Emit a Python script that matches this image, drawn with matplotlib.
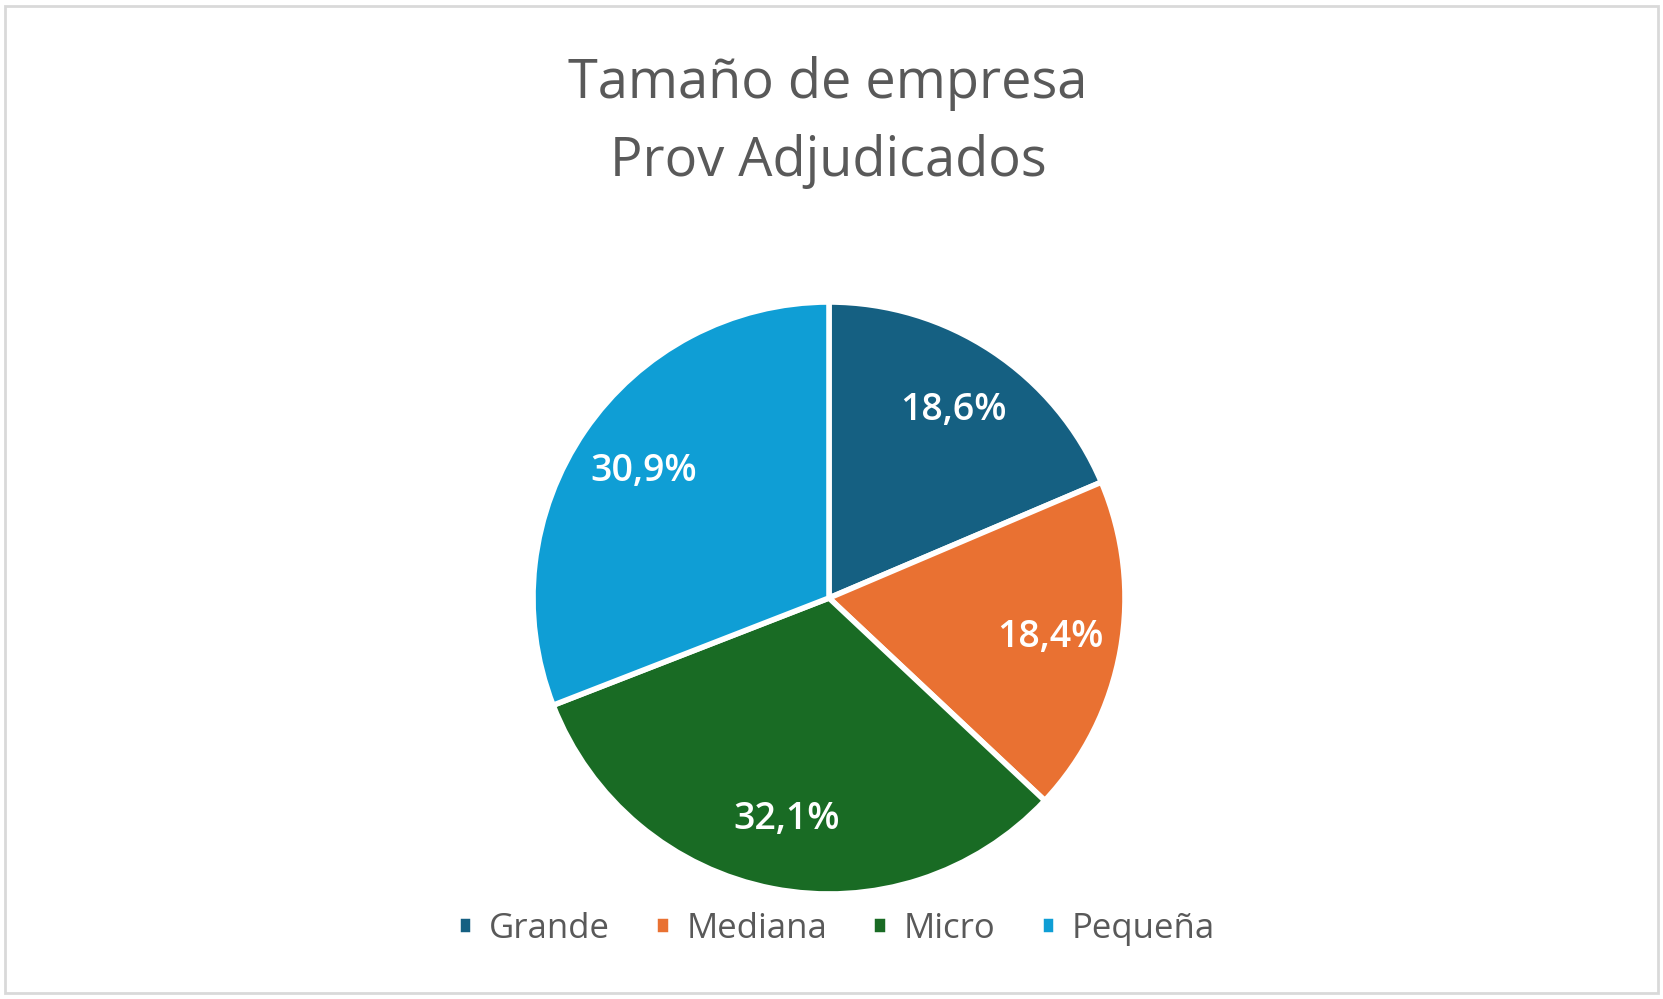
import matplotlib.pyplot as plt
from matplotlib.patches import Rectangle

categories = ["Grande", "Mediana", "Micro", "Pequeña"]
shares = [18.6, 18.4, 32.1, 30.9]
colors = ["#156082", "#E97132", "#196B24", "#0F9ED5"]

plt.rcParams['font.family'] = ['Open Sans', 'DejaVu Sans']

fig = plt.figure(figsize=(16.63, 9.99), dpi=100)
fig.patch.set_facecolor("white")

# pie centre ~ (829, 598) px, radius ~ 296 px
r = 296
cx, cy = 829, 999 - 598
ax = fig.add_axes([(cx - r) / 1663, (cy - r) / 999, 2 * r / 1663, 2 * r / 999])

wedges, texts, autotexts = ax.pie(
    shares, colors=colors, startangle=90, counterclock=False,
    autopct=lambda p: f"{p:.1f}%".replace(".", ","), pctdistance=0.76,
    wedgeprops=dict(edgecolor="white", linewidth=4),
    textprops=dict(color="white", fontsize=27, fontweight="semibold"))
ax.set_xlim(-1, 1)
ax.set_ylim(-1, 1)
ax.set_aspect("equal")

fig.text(0.498, 0.916, "Tamaño de empresa", ha="center", va="center",
         fontsize=39, color="#595959")
fig.text(0.498, 0.838, "Prov Adjudicados", ha="center", va="center",
         fontsize=39, color="#595959")

leg = fig.legend(wedges, categories, loc="center", bbox_to_anchor=(0.503, 0.07),
                 ncol=4, frameon=False, fontsize=25, handlelength=0.45,
                 handleheight=0.45, handletextpad=0.45, columnspacing=1.3)
for t in leg.get_texts():
    t.set_color("#595959")

fig.patches.append(Rectangle((0.003, 0.006), 0.994, 0.988, transform=fig.transFigure,
                             fill=False, edgecolor="#d9d9d9", linewidth=2))

fig.savefig("out.png", dpi=100)
